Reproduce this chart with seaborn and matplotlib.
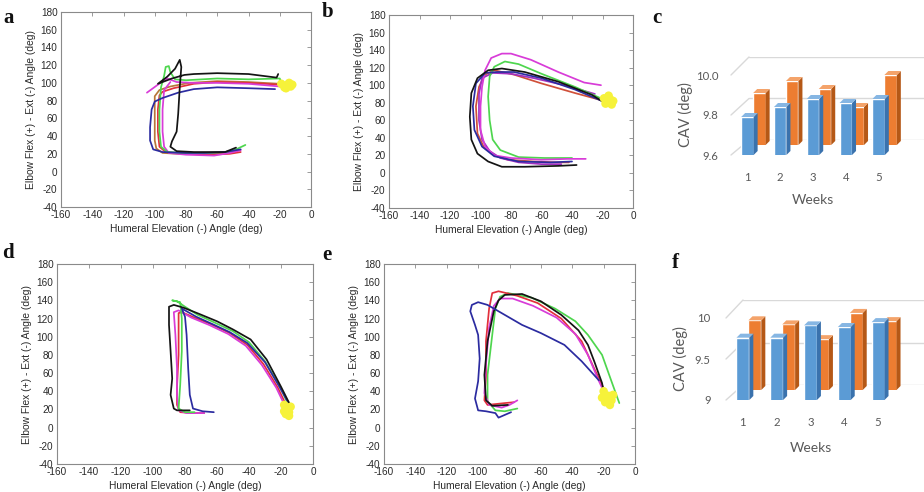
import matplotlib
matplotlib.use("Agg")
import matplotlib.pyplot as plt
import pandas as pd
import seaborn as sns
from matplotlib.patches import Polygon, ConnectionPatch

sns.set_theme(style="white")
plt.rcParams['font.family'] = ['Liberation Sans', 'DejaVu Sans']
plt.rcParams['axes.unicode_minus'] = False

# ---------------- data: bar panels (c, f) ----------------
weeks = ["1", "2", "3", "4", "5"]
c_blue = [9.79, 9.84, 9.88, 9.86, 9.88]
c_orange = [9.86, 9.92, 9.88, 9.79, 9.95]
c_ticks = [9.6, 9.8, 10.0]
c_ticklabels = ["9.6", "9.8", "10.0"]
f_blue = [9.76, 9.76, 9.91, 9.89, 9.95]
f_orange = [9.85, 9.80, 9.62, 9.94, 9.84]
f_ticks = [9.0, 9.5, 10.0]
f_ticklabels = ["9", "9.5", "10"]

# ---------------- data: trajectory panels (a, b, d, e) ----------------
traj_xticks = list(range(-160, 1, 20))
traj_yticks = list(range(-40, 181, 20))

a_black = [(-21, 110), (-22, 106), (-40, 110), (-60, 111), (-75, 110), (-81, 109), (-89, 105),
           (-98, 99), (-92, 107), (-87, 116), (-84, 126), (-83, 118), (-84, 95), (-85, 65),
           (-86, 45), (-89, 34), (-90, 28), (-86, 23), (-75, 22), (-62, 22), (-55, 22), (-48, 27)]
a_blue = [(-23, 93), (-40, 94), (-60, 95), (-75, 93), (-85, 89), (-95, 83), (-100, 79), (-102, 70),
          (-103, 50), (-103, 35), (-101, 25), (-95, 22), (-80, 21), (-68, 21), (-55, 22), (-45, 25)]
a_red = [(-20, 98), (-40, 100), (-60, 101), (-75, 99), (-88, 94), (-95, 90), (-97, 86), (-98, 70),
         (-98, 45), (-97, 28), (-93, 22), (-80, 20), (-65, 19), (-52, 20), (-45, 22)]
a_brown = [(-20, 99), (-40, 101), (-60, 102), (-78, 100), (-90, 96), (-97, 92), (-100, 85),
           (-100, 60), (-100, 35), (-99, 26), (-95, 21), (-85, 20), (-70, 20), (-55, 21), (-47, 23)]
a_magenta = [(-105, 89), (-98, 98), (-92, 105), (-86, 101), (-75, 100), (-60, 100), (-40, 99), (-20, 96)]
a_magenta_b = [(-90, 101), (-94, 92), (-95, 70), (-95, 45), (-94, 28), (-91, 21), (-80, 19),
               (-62, 18), (-52, 21), (-45, 24)]
a_green = [(-19, 101), (-20, 105), (-40, 104), (-60, 105), (-80, 103), (-87, 104), (-90, 112),
           (-91, 119), (-93, 118), (-94, 108), (-96, 95), (-97, 70), (-97, 45), (-96, 28), (-92, 22),
           (-80, 21), (-65, 21), (-55, 22), (-48, 25), (-42, 30)]
a_yellow = [(-19, 99), (-17, 95), (-15, 98), (-13, 96), (-14, 100), (-16, 94), (-12, 98)]

b_black = [(-14, 75), (-27, 89), (-49, 104), (-71, 115), (-86, 119), (-95, 117), (-102, 108),
           (-106, 91), (-107, 64), (-106, 38), (-102, 22), (-95, 13), (-86, 7), (-71, 7), (-49, 8), (-37, 9)]
b_magenta = [(-21, 100), (-32, 103), (-49, 115), (-67, 129), (-80, 136), (-86, 136), (-93, 131),
             (-97, 117), (-99, 98), (-100, 76), (-100, 49), (-97, 30), (-91, 20), (-80, 17), (-60, 15),
             (-43, 16), (-31, 16)]
b_green = [(-21, 85), (-38, 98), (-60, 113), (-75, 124), (-84, 127), (-91, 121), (-94, 110), (-95, 87),
           (-94, 60), (-92, 38), (-87, 26), (-75, 18), (-58, 17), (-40, 17)]
b_red = [(-21, 83), (-38, 91), (-60, 102), (-78, 112), (-91, 117), (-97, 112), (-101, 98), (-103, 76),
         (-102, 45), (-98, 30), (-91, 20), (-82, 15), (-65, 13), (-50, 12), (-42, 12)]
b_blue = [(-19, 81), (-38, 95), (-60, 108), (-78, 115), (-89, 115), (-97, 114), (-103, 102), (-105, 76),
          (-104, 49), (-99, 30), (-91, 19), (-75, 13), (-54, 12), (-40, 13)]
b_purple = [(-25, 90), (-45, 100), (-65, 108), (-80, 113), (-92, 114), (-99, 108), (-101, 90), (-101, 60),
            (-99, 38), (-94, 25), (-87, 17), (-75, 12), (-60, 10), (-47, 10)]
b_yellow = [(-19, 85), (-17, 80), (-15, 84), (-14, 78), (-13, 82), (-16, 88), (-18, 79)]

d_black = [(-14, 24), (-20, 45), (-29, 75), (-39, 97), (-50, 108), (-60, 117), (-71, 125), (-81, 132),
           (-87, 135), (-90, 133), (-90, 113), (-89, 84), (-88, 54), (-89, 36), (-87, 21), (-85, 19), (-77, 19)]
d_green = [(-15, 24), (-21, 46), (-30, 73), (-40, 94), (-50, 106), (-62, 116), (-72, 124), (-80, 133),
           (-85, 139), (-88, 140), (-83, 138), (-82, 120), (-82, 84), (-83, 47), (-84, 21), (-80, 17), (-74, 17)]
d_red = [(-16, 22), (-22, 44), (-31, 70), (-41, 91), (-52, 104), (-64, 114), (-74, 121), (-82, 127),
         (-84, 126), (-84, 113), (-84, 80), (-85, 45), (-85, 25), (-83, 17), (-75, 16), (-68, 16)]
d_magenta = [(-17, 22), (-23, 44), (-32, 69), (-42, 90), (-53, 103), (-65, 113), (-76, 121), (-84, 129),
             (-87, 127), (-86, 102), (-85, 65), (-85, 36), (-84, 19), (-79, 16), (-68, 16)]
d_blue = [(-14, 23), (-21, 45), (-30, 72), (-41, 93), (-52, 105), (-63, 114), (-73, 122), (-82, 131),
          (-80, 122), (-79, 102), (-78, 65), (-77, 36), (-75, 21), (-69, 18), (-62, 17)]
d_yellow = [(-18, 25), (-16, 20), (-14, 23), (-17, 15), (-15, 17), (-18, 18), (-15, 13)]

e_blue = [(-23, 52), (-34, 73), (-45, 91), (-60, 104), (-72, 113), (-85, 126), (-94, 135), (-100, 138),
          (-104, 135), (-105, 128), (-102, 113), (-100, 102), (-99, 76), (-100, 51), (-102, 32),
          (-100, 19), (-95, 18), (-89, 16), (-87, 11), (-83, 14), (-79, 17)]
e_black = [(-20, 40), (-21, 49), (-26, 73), (-30, 91), (-36, 107), (-47, 124), (-60, 139), (-72, 147),
           (-83, 146), (-87, 140), (-90, 128), (-94, 95), (-96, 58), (-95, 30), (-91, 24), (-81, 25)]
e_green = [(-10, 27), (-15, 51), (-21, 80), (-30, 102), (-38, 117), (-51, 131), (-66, 143), (-81, 148),
           (-86, 144), (-89, 131), (-91, 102), (-94, 58), (-94, 29), (-89, 19), (-83, 18), (-75, 21)]
e_red = [(-19, 38), (-21, 47), (-26, 65), (-34, 95), (-47, 120), (-62, 137), (-75, 145), (-82, 148),
         (-87, 150), (-91, 148), (-93, 131), (-95, 95), (-95, 58), (-96, 30), (-94, 25), (-83, 27), (-77, 28)]
e_magenta = [(-20, 40), (-24, 55), (-30, 80), (-38, 103), (-50, 121), (-65, 134), (-78, 142), (-86, 142),
             (-90, 134), (-93, 110), (-95, 70), (-96, 38), (-93, 25), (-85, 22), (-80, 25), (-75, 30)]
e_yellow = [(-20, 40), (-17, 35), (-15, 30), (-19, 28), (-16, 25), (-21, 33), (-14, 36)]

# ---------------- style ----------------
BLACK, NAVY, RED, MAG, GREEN, BROWN, PURPLE = "#141414", "#2b2ba0", "#e2303c", "#d83cd8", "#4ed64e", "#b8763a", "#a030c0"
YELLOW = "#f6f23a"
BLUE_F, BLUE_S, BLUE_T = "#5b9bd5", "#3a72ad", "#86b6e3"
ORNG_F, ORNG_S, ORNG_T = "#ed7d31", "#b55816", "#f4a36a"
GRID = "#d9d9d9"
TXT = "#595959"

W, H = 924, 492
fig = plt.figure(figsize=(W / 100, H / 100), dpi=100)


def rect(left, top, width, height):
    return [left / W, 1 - (top + height) / H, width / W, height / H]


def draw_curve(ax, pts, color, lw=1.25):
    df = pd.DataFrame(pts, columns=["x", "y"])
    sns.lineplot(data=df, x="x", y="y", sort=False, estimator=None, color=color,
                 lw=lw, ax=ax, legend=False)


def draw_yellow(ax, pts):
    df = pd.DataFrame(pts, columns=["x", "y"])
    sns.scatterplot(data=df, x="x", y="y", color=YELLOW, s=38, marker="o",
                    edgecolor="none", ax=ax, legend=False, zorder=5)


def style_traj(ax):
    ax.set_xlim(-160, 0)
    ax.set_ylim(-40, 180)
    ax.set_xticks(traj_xticks)
    ax.set_yticks(traj_yticks)
    ax.tick_params(direction="in", length=3, width=0.6, top=True, right=True,
                   labelsize=7.2, pad=2.5, color="#8a8a8a", labelcolor="#2a2a2a")
    for s in ax.spines.values():
        s.set_color("#8a8a8a")
        s.set_linewidth(0.8)
    ax.set_xlabel("Humeral Elevation (-) Angle (deg)", fontsize=7.4, labelpad=2.5, color="#2a2a2a")
    ax.set_ylabel("Elbow Flex (+) - Ext (-) Angle (deg)", fontsize=7.4, labelpad=3, color="#2a2a2a")


traj_panels = [
    (rect(61, 12, 250, 195), [(a_brown, BROWN), (a_red, RED), (a_magenta, MAG), (a_magenta_b, MAG),
                              (a_green, GREEN), (a_blue, NAVY), (a_black, BLACK)], a_yellow),
    (rect(389, 15, 244, 193), [(b_red, "#d0503a"), (b_purple, PURPLE), (b_green, GREEN), (b_magenta, MAG),
                               (b_blue, NAVY), (b_black, BLACK)], b_yellow),
    (rect(57, 264, 256, 200), [(d_red, RED), (d_magenta, MAG), (d_green, GREEN), (d_blue, NAVY),
                               (d_black, BLACK)], d_yellow),
    (rect(384, 264, 251, 200), [(e_green, GREEN), (e_red, RED), (e_magenta, MAG), (e_black, BLACK),
                                (e_blue, NAVY)], e_yellow),
]
for r, curves, yel in traj_panels:
    ax = fig.add_axes(r)
    for pts, col in curves:
        draw_curve(ax, pts, col)
    draw_yellow(ax, yel)
    style_traj(ax)


# ---------------- pseudo-3D bar panels ----------------
def add_depth(ax, side, top, px_w, px_h, depth=4):
    x0l, x1l = ax.get_xlim()
    y0l, y1l = ax.get_ylim()
    ddx = depth * (x1l - x0l) / px_w
    ddy = depth * (y1l - y0l) / px_h
    for p in list(ax.patches):
        x0, w = p.get_x(), p.get_width()
        yt = p.get_y() + p.get_height()
        ax.add_patch(Polygon([(x0 + w, y0l), (x0 + w + ddx, y0l + ddy), (x0 + w + ddx, yt + ddy), (x0 + w, yt)],
                             closed=True, fc=side, ec="none", clip_on=False))
        ax.add_patch(Polygon([(x0, yt), (x0 + ddx, yt + ddy), (x0 + w + ddx, yt + ddy), (x0 + w, yt)],
                             closed=True, fc=top, ec="none", clip_on=False))


def bar_panel(front_r, back_r, wall_r, px_w, px_h, blue, orange, ticks, ticklabels,
              ytick_pad, ylab_pad, xtick_pad, xlab_pad):
    ylim = (ticks[0], ticks[-1])
    wall = fig.add_axes(wall_r)
    back = fig.add_axes(back_r)
    front = fig.add_axes(front_r)

    wall.set_ylim(*ylim)
    wall.set_xlim(0, 1)
    for v in ticks:
        wall.axhline(v, color=GRID, lw=1.0)
    wall.axis("off")

    sns.barplot(x=weeks, y=orange, color=ORNG_F, width=0.38, saturation=1, ax=back)
    back.set_xlim(-0.5, 4.5)
    back.set_ylim(*ylim)
    add_depth(back, ORNG_S, ORNG_T, px_w, px_h)
    back.axis("off")

    sns.barplot(x=weeks, y=blue, color=BLUE_F, width=0.38, saturation=1, ax=front)
    front.set_xlim(-0.5, 4.5)
    front.set_ylim(*ylim)
    add_depth(front, BLUE_S, BLUE_T, px_w, px_h)
    front.set_facecolor("none")
    for s in front.spines.values():
        s.set_visible(False)
    front.set_yticks(ticks)
    front.set_yticklabels(ticklabels)
    front.tick_params(axis="y", length=0, labelsize=8.2, labelcolor=TXT, pad=ytick_pad)
    front.tick_params(axis="x", length=0, labelsize=8.2, labelcolor=TXT, pad=xtick_pad)
    front.set_xlabel("Weeks", fontsize=10, color=TXT, labelpad=xlab_pad, family=["Lato", "DejaVu Sans"])
    front.set_ylabel("CAV (deg)", fontsize=10.5, color=TXT, labelpad=ylab_pad, family=["Lato", "DejaVu Sans"])
    for t in front.get_xticklabels() + front.get_yticklabels():
        t.set_family(["Lato", "DejaVu Sans"])

    for v in ticks:
        con = ConnectionPatch(xyA=(-0.5, v), coordsA=front.transData, xyB=(0, v), coordsB=wall.transData,
                              color=GRID, lw=1.0, annotation_clip=False)
        wall.add_artist(con)
        con.set_clip_on(False)


bar_panel(rect(731, 75, 164, 80), rect(743, 65, 164, 80), rect(749, 57, 220, 83), 164, 80,
          c_blue, c_orange, c_ticks, c_ticklabels, ytick_pad=9, ylab_pad=2, xtick_pad=12, xlab_pad=8)
bar_panel(rect(726, 318, 169, 82), rect(738, 308, 169, 82), rect(743, 300, 220, 85), 169, 82,
          f_blue, f_orange, f_ticks, f_ticklabels, ytick_pad=11, ylab_pad=5, xtick_pad=12, xlab_pad=10)

# ---------------- panel letters ----------------
for lab, x, y in [("a", 3, 23), ("b", 322, 17), ("c", 652, 23), ("d", 2, 258), ("e", 322, 260), ("f", 672, 268)]:
    fig.text(x / W, 1 - y / H, lab, fontsize=15, fontweight="bold", va="baseline", ha="left",
             family=["Liberation Serif", "DejaVu Serif"], color="#111111")

fig.savefig("out.png", dpi=100)
